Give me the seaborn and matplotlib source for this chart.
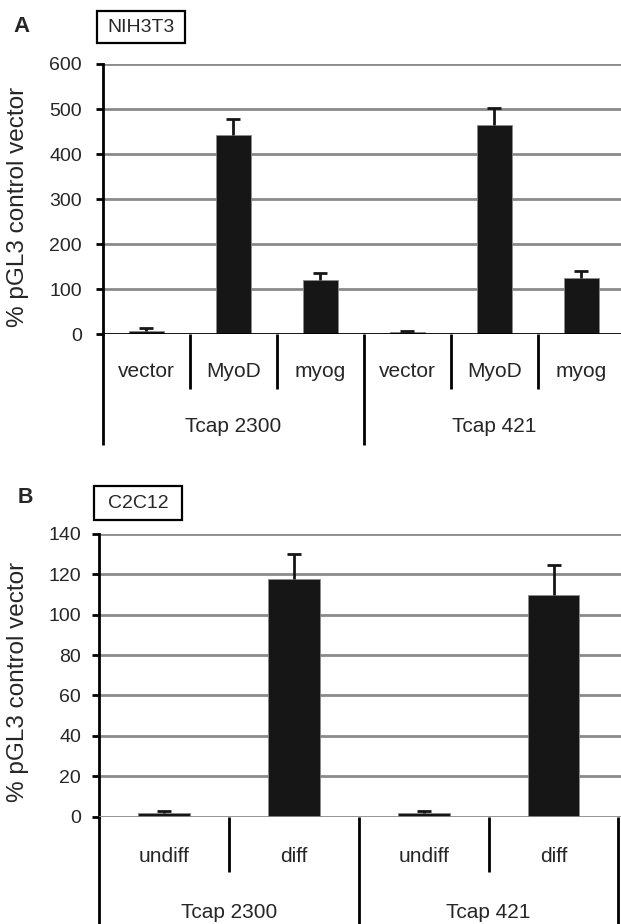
import matplotlib
matplotlib.use("Agg")
import matplotlib.pyplot as plt
from matplotlib.patches import Rectangle
import pandas as pd
import seaborn as sns

# panel A: NIH3T3
a_groups = ["Tcap 2300", "Tcap 2300", "Tcap 2300", "Tcap 421", "Tcap 421", "Tcap 421"]
a_treat = ["vector", "MyoD", "myog", "vector", "MyoD", "myog"]
a_values = [7, 442, 120, 5, 464, 124]
a_err = [6, 36, 15, 2, 38, 16]
a_ticks = [0, 100, 200, 300, 400, 500, 600]

# panel B: C2C12
b_groups = ["Tcap 2300", "Tcap 2300", "Tcap 421", "Tcap 421"]
b_treat = ["undiff", "diff", "undiff", "diff"]
b_values = [1.6, 117.7, 1.6, 109.9]
b_err = [1.2, 12.6, 1.2, 14.6]
b_ticks = [0, 20, 40, 60, 80, 100, 120, 140]

W, H = 621, 924
BAR = "#161616"
GRID = "#8a8a8a"

sns.set_theme(style="white")
plt.rcParams["font.family"] = ["Liberation Sans", "DejaVu Sans"]

fig = plt.figure(figsize=(W / 100, H / 100), dpi=100)


def make_panel(left_px, top_px, bottom_px, xmax, groups, treat, values, err, ticks,
               ymax, zero_color, sep_short, lab_y, grp_y, sep_long, last_sep, pad):
    n = len(values)
    h = bottom_px - top_px
    ax = fig.add_axes([left_px / W, 1 - bottom_px / H, (W - left_px) / W, h / H])
    df = pd.DataFrame({"cond": [f"{g}|{t}" for g, t in zip(groups, treat)],
                       "value": values})
    for t in ticks[1:]:
        ax.axhline(t, color=GRID, lw=2, zorder=0)
    sns.barplot(data=df, x="cond", y="value", order=list(df["cond"]), color=BAR,
                width=0.4, saturation=1, edgecolor="#8a8a8a", linewidth=0.6,
                ax=ax, zorder=2)
    eb = ax.errorbar(range(n), values, yerr=[[0] * n, err], fmt="none", ecolor=BAR,
                     elinewidth=2, capsize=5.3, capthick=2, zorder=3)
    # only the upper caps are drawn in the figure
    for cl in eb[1]:
        if list(cl.get_ydata()) == list(values):
            cl.set_visible(False)
    ax.axhline(0, color=zero_color, lw=2, zorder=4)
    ax.set_ylim(0, ymax)
    ax.set_xlim(-0.5, xmax)
    ax.set_yticks(ticks)
    ax.set_xticks([])
    ax.set_xlabel("")
    ax.set_ylabel("")
    for s in ["top", "right", "bottom"]:
        ax.spines[s].set_visible(False)
    ax.spines["left"].set_linewidth(2)
    ax.spines["left"].set_color("black")
    ax.tick_params(axis="y", length=5, width=2, color="black", pad=pad,
                   left=True, labelsize=14)
    tr = ax.get_xaxis_transform()
    ys = -(sep_short - bottom_px) / h
    yl = -(sep_long - bottom_px) / h
    for i in range(n + 1 if last_sep else n):
        long_sep = i == 0 or i == n or groups[i] != groups[i - 1]
        ax.plot([i - 0.5, i - 0.5], [0, yl if long_sep else ys], transform=tr,
                color="black", lw=2, clip_on=False, solid_capstyle="butt")
    for i, t in enumerate(treat):
        ax.text(i, -(lab_y - bottom_px) / h, t, transform=tr, ha="center",
                va="center", fontsize=15)
    for g in dict.fromkeys(groups):
        idx = [i for i, gg in enumerate(groups) if gg == g]
        ax.text(sum(idx) / len(idx), -(grp_y - bottom_px) / h, g, transform=tr,
                ha="center", va="center", fontsize=15)
    return ax


make_panel(102.7, 64, 334.3, 5.457, a_groups, a_treat, a_values, a_err, a_ticks, 600,
           "black", 389, 372, 427, 445, False, 10)
make_panel(99.3, 534, 816.5, 3.52, b_groups, b_treat, b_values, b_err, b_ticks, 140,
           GRID, 872, 856, 912, 930, True, 8)


def name_box(x0, y0, x1, y1, label):
    fig.patches.append(Rectangle((x0 / W, 1 - y1 / H), (x1 - x0) / W, (y1 - y0) / H,
                                 transform=fig.transFigure, facecolor="white",
                                 edgecolor="black", lw=1.6))
    fig.text((x0 + x1) / 2 / W, 1 - (y0 + y1) / 2 / H, label, fontsize=14,
             ha="center", va="center")


name_box(97, 11, 185, 43, "NIH3T3")
name_box(94, 486, 182, 520, "C2C12")
fig.text(22 / W, 1 - 26 / H, "A", fontsize=16, fontweight="bold", ha="center", va="center")
fig.text(25 / W, 1 - 497.5 / H, "B", fontsize=15.5, fontweight="bold", ha="center", va="center")
fig.text(18 / W, 1 - 207 / H, "% pGL3 control vector", rotation=90, fontsize=17.5,
         ha="center", va="center")
fig.text(18 / W, 1 - 682 / H, "% pGL3 control vector", rotation=90, fontsize=17.5,
         ha="center", va="center")

fig.savefig("out.png", dpi=100, facecolor="white")
